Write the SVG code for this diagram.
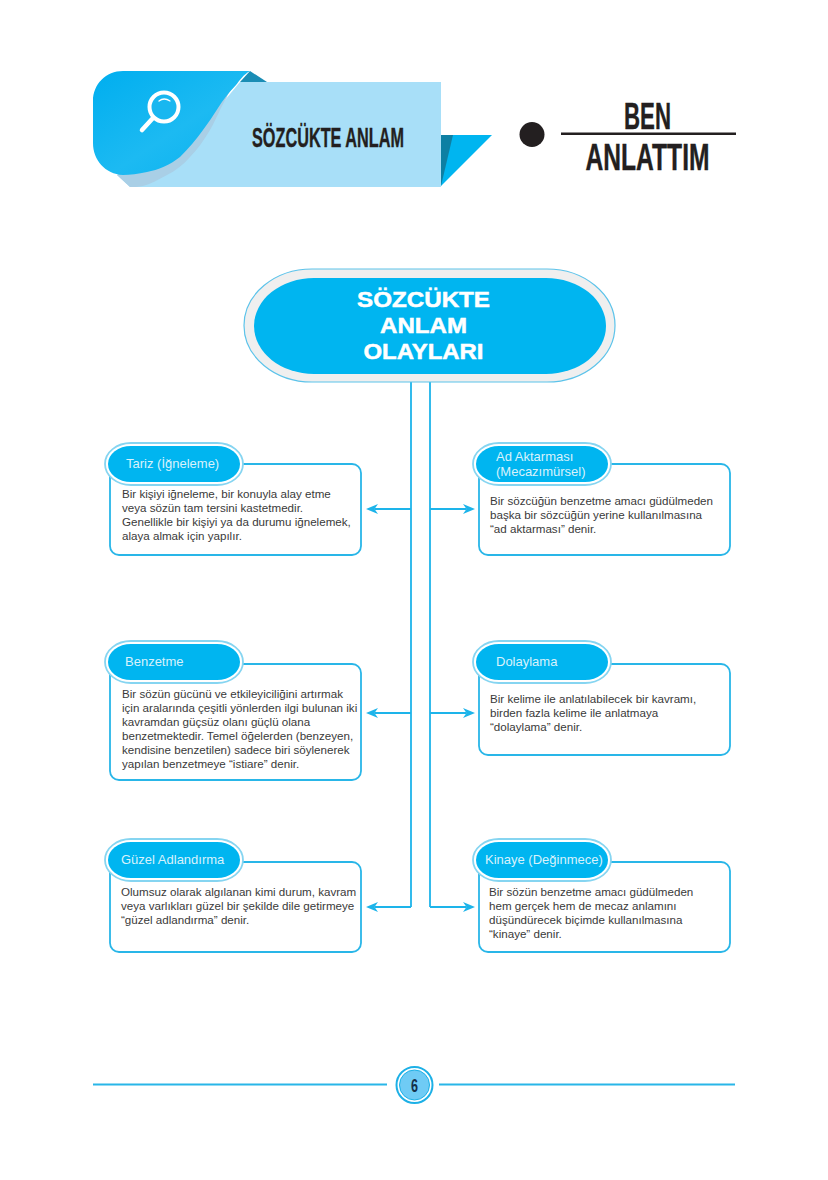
<svg xmlns="http://www.w3.org/2000/svg" width="828" height="1180" viewBox="0 0 828 1180">
<defs>
<style>
.box{fill:#fff;stroke:#29b6e8;stroke-width:1.8}
.pillo{fill:#fff;stroke:#86d5f1;stroke-width:1.800}
.pilli{fill:#00b5f0}
.pt{font:13px "Liberation Sans",Arial,sans-serif;fill:#d8f2fc}
.bt{font:11.600px "Liberation Sans",Arial,sans-serif;fill:#3a3a3a}
.cn{fill:none;stroke:#1db4ea;stroke-width:1.8}
.hd{font-family:"Liberation Sans",Arial,sans-serif;font-weight:700;fill:#231f20;stroke:#231f20;stroke-width:.4}
.tt{font:700 22px "Liberation Sans",Arial,sans-serif;fill:#fff;stroke:#fff;stroke-width:.5;text-anchor:middle}
</style>
<marker id="ah" viewBox="0 0 12 10" refX="3.500" refY="5" markerWidth="12" markerHeight="10" markerUnits="userSpaceOnUse" orient="auto"><path d="M0 0L12 5L0 10L3.500 5Z" fill="#1db4ea"/></marker>
<linearGradient id="gb" x1="0" y1="0" x2="1" y2="1"><stop offset="0" stop-color="#00aeef"/><stop offset=".55" stop-color="#1cbaf2"/><stop offset="1" stop-color="#08b1ef"/></linearGradient>
</defs>
<rect width="828" height="1180" fill="#fff"/>
<g id="header">
<path d="M441 135H492L441 186Z" fill="#00b5f0"/>
<path d="M441 135H453L441 186Z" fill="#0d7fa3"/>
<path d="M240 82H441V187H130L117 175L200 130Z" fill="#a8dff8"/>
<path d="M250 71L267 82H240Z" fill="#1a8db5"/>
<path d="M240 82C232 88 228 93 227 97C220 108 216 120 210 130C204 140 198 149 190 157C183 165 175 171 167 175C158 180 150 184 143 186C138 187 134 187 130 187L117 175Z" fill="#a9cfe6"/>
<path d="M123 71H250C243 75 240 80 236 85C229 92 223 100 218 108C213 116 208 123 203 130C196 140 188 149 180 157C170 165 158 170 147 172C138 174 130 175 123 175C105 174 93 160 93 143V101C93 84 106 71 123 71Z" fill="url(#gb)"/>
<g fill="none" stroke="#fff" stroke-linecap="round"><circle cx="164" cy="107" r="14.500" stroke-width="4" fill="#19b7f0"/><path d="M153 118L142 130" stroke-width="4.500"/><path d="M159 101Q164 97 170 101" stroke-width="1.300"/></g>
<text class="hd" x="328" y="147" font-size="28" text-anchor="middle" textLength="152" lengthAdjust="spacingAndGlyphs">SÖZCÜKTE ANLAM</text>
<circle cx="532" cy="134.500" r="12.500" fill="#231f20"/>
<rect x="561" y="132.500" width="175" height="2.500" fill="#231f20"/>
<text class="hd" x="647.500" y="129" font-size="36" text-anchor="middle" textLength="47" lengthAdjust="spacingAndGlyphs">BEN</text>
<text class="hd" x="647.500" y="169.500" font-size="36" text-anchor="middle" textLength="124" lengthAdjust="spacingAndGlyphs">ANLATTIM</text>
</g>
<g id="connectors">
<path class="cn" d="M411 381V907"/>
<path class="cn" d="M430 381V907"/>
<path class="cn" marker-end="url(#ah)" d="M411 509H374.500"/>
<path class="cn" marker-end="url(#ah)" d="M411 713H374.500"/>
<path class="cn" marker-end="url(#ah)" d="M411 907H374.500"/>
<path class="cn" marker-end="url(#ah)" d="M430 509H466.500"/>
<path class="cn" marker-end="url(#ah)" d="M430 713H466.500"/>
<path class="cn" marker-end="url(#ah)" d="M430 907H466.500"/>
</g>
<g id="root">
<rect x="244" y="269" width="371" height="113" rx="68" ry="56.500" fill="#efefef" stroke="#5cc3ea" stroke-width="1.200"/>
<rect x="254" y="278" width="352" height="96" rx="60" ry="48" fill="#00b5f0"/>
<text class="tt" x="423.500" y="307" textLength="133" lengthAdjust="spacingAndGlyphs">SÖZCÜKTE</text>
<text class="tt" x="423.500" y="333" textLength="87" lengthAdjust="spacingAndGlyphs">ANLAM</text>
<text class="tt" x="423.500" y="359" textLength="120" lengthAdjust="spacingAndGlyphs">OLAYLARI</text>
</g>
<g id="tariz">
<rect class="box" x="110" y="464" width="251" height="91" rx="9"/>
<rect class="pillo" x="105" y="443" width="138" height="42" rx="26" ry="21"/>
<rect class="pilli" x="108" y="446" width="132" height="36" rx="23" ry="18"/>
<text class="pt" x="126" y="468">Tariz (İğneleme)</text>
<text class="bt"><tspan x="122" y="498">Bir kişiyi iğneleme, bir konuyla alay etme</tspan><tspan x="122" y="512">veya sözün tam tersini kastetmedir.</tspan><tspan x="122" y="526">Genellikle bir kişiyi ya da durumu iğnelemek,</tspan><tspan x="122" y="540">alaya almak için yapılır.</tspan></text>
</g>
<g id="ad-aktarmasi">
<rect class="box" x="479" y="464" width="251" height="91" rx="9"/>
<rect class="pillo" x="473" y="443" width="138" height="42" rx="26" ry="21"/>
<rect class="pilli" x="476" y="446" width="132" height="36" rx="23" ry="18"/>
<text class="pt"><tspan x="496" y="461">Ad Aktarması</tspan><tspan x="496" y="476">(Mecazımürsel)</tspan></text>
<text class="bt"><tspan x="490" y="505">Bir sözcüğün benzetme amacı güdülmeden</tspan><tspan x="490" y="519">başka bir sözcüğün yerine kullanılmasına</tspan><tspan x="490" y="533">“ad aktarması” denir.</tspan></text>
</g>
<g id="benzetme">
<rect class="box" x="110" y="664" width="251" height="116" rx="9"/>
<rect class="pillo" x="105" y="641" width="138" height="42" rx="26" ry="21"/>
<rect class="pilli" x="108" y="644" width="132" height="36" rx="23" ry="18"/>
<text class="pt" x="125" y="666">Benzetme</text>
<text class="bt"><tspan x="122" y="698">Bir sözün gücünü ve etkileyiciliğini artırmak</tspan><tspan x="122" y="712">için aralarında çeşitli yönlerden ilgi bulunan iki</tspan><tspan x="122" y="726">kavramdan güçsüz olanı güçlü olana</tspan><tspan x="122" y="740">benzetmektedir. Temel öğelerden (benzeyen,</tspan><tspan x="122" y="754">kendisine benzetilen) sadece biri söylenerek</tspan><tspan x="122" y="768">yapılan benzetmeye “istiare” denir.</tspan></text>
</g>
<g id="dolaylama">
<rect class="box" x="479" y="664" width="251" height="91" rx="9"/>
<rect class="pillo" x="473" y="641" width="138" height="42" rx="26" ry="21"/>
<rect class="pilli" x="476" y="644" width="132" height="36" rx="23" ry="18"/>
<text class="pt" x="496" y="666">Dolaylama</text>
<text class="bt"><tspan x="490" y="703">Bir kelime ile anlatılabilecek bir kavramı,</tspan><tspan x="490" y="717">birden fazla kelime ile anlatmaya</tspan><tspan x="490" y="731">“dolaylama” denir.</tspan></text>
</g>
<g id="guzel-adlandirma">
<rect class="box" x="110" y="862" width="251" height="90" rx="9"/>
<rect class="pillo" x="105" y="839" width="138" height="42" rx="26" ry="21"/>
<rect class="pilli" x="108" y="842" width="132" height="36" rx="23" ry="18"/>
<text class="pt" x="121" y="864">Güzel Adlandırma</text>
<text class="bt"><tspan x="121" y="896">Olumsuz olarak algılanan kimi durum, kavram</tspan><tspan x="121" y="910">veya varlıkları güzel bir şekilde dile getirmeye</tspan><tspan x="121" y="924">“güzel adlandırma” denir.</tspan></text>
</g>
<g id="kinaye">
<rect class="box" x="479" y="862" width="251" height="90" rx="9"/>
<rect class="pillo" x="473" y="839" width="138" height="42" rx="26" ry="21"/>
<rect class="pilli" x="476" y="842" width="132" height="36" rx="23" ry="18"/>
<text class="pt" x="485" y="864">Kinaye (Değinmece)</text>
<text class="bt"><tspan x="489" y="896">Bir sözün benzetme amacı güdülmeden</tspan><tspan x="489" y="910">hem gerçek hem de mecaz anlamını</tspan><tspan x="489" y="924">düşündürecek biçimde kullanılmasına</tspan><tspan x="489" y="938">“kinaye” denir.</tspan></text>
</g>
<g id="footer">
<path d="M93 1084.500H387M439 1084.500H735" stroke="#29b6e8" stroke-width="1.800" fill="none"/>
<circle cx="414.500" cy="1085" r="18" fill="#fff" stroke="#1db0e6" stroke-width="2"/>
<circle cx="414.500" cy="1085" r="15" fill="#6fcbf5" stroke="#1db0e6" stroke-width="1"/>
<text x="414.500" y="1092" font-family="Liberation Sans,Arial,sans-serif" font-size="19" font-weight="700" fill="#14304a" text-anchor="middle" textLength="7" lengthAdjust="spacingAndGlyphs">6</text>
</g>
</svg>
